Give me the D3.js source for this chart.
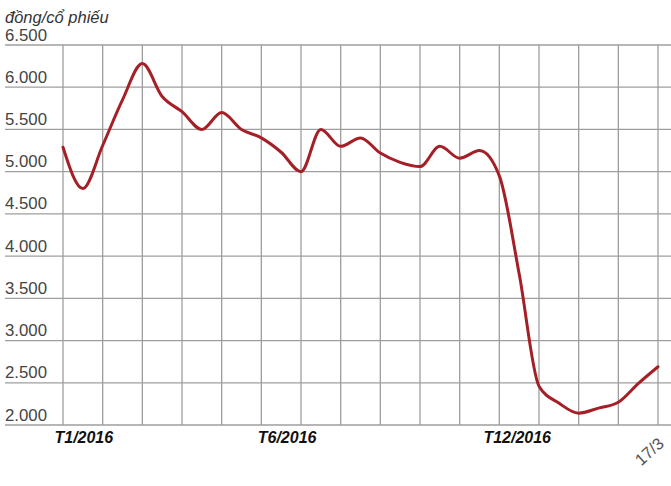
<!DOCTYPE html>
<html>
<head>
<meta charset="utf-8">
<script src="https://cdn.jsdelivr.net/npm/d3@7"></script>
<style>
  html, body { margin: 0; padding: 0; background: #fff; }
  svg { display: block; }
</style>
</head>
<body>
<div id="chart"></div>
<script>
// Half-month sampled share price (đồng/cổ phiếu), Jan 2016 → 17/3/2017
const prices = [5290, 4800, 5310, 5850, 6280, 5890, 5710, 5500, 5700, 5500,
                5400, 5230, 5000, 5500, 5300, 5400, 5220, 5110, 5060, 5300,
                5160, 5250, 4950, 3790, 2460, 2260, 2140, 2200, 2270, 2490, 2690];
const yTicks = [2000, 2500, 3000, 3500, 4000, 4500, 5000, 5500, 6000, 6500];
const monthLines = [0, 2, 4, 6, 8, 10, 12, 14, 16, 18, 20, 22, 24, 26, 28, 30];
const xLabels = ["T1/2016", "T6/2016", "T12/2016"];
const xLabelAt = [1.05, 11.3, 22.9];
const endLabel = "17/3";
const unitLabel = "đồng/cổ phiếu";

const W = 671, H = 486;
const svg = d3.select("#chart").append("svg").attr("width", W).attr("height", H);

const x = d3.scaleLinear().domain([0, prices.length - 1]).range([63, 658]);
const y = d3.scaleLinear().domain([2000, 6500]).range([425, 45]);

const loc = d3.formatLocale({decimal: ",", thousands: ".", grouping: [3], currency: ["", ""]});
const fmt = loc.format(",d");

const grid = svg.append("g");
grid.selectAll("line.h").data(yTicks).join("line")
  .attr("x1", 5).attr("x2", W)
  .attr("y1", d => y(d)).attr("y2", d => y(d))
  .attr("stroke", "#9e9e9e").attr("stroke-width", 1.3);
grid.selectAll("line.v").data(monthLines).join("line")
  .attr("x1", d => x(d)).attr("x2", d => x(d))
  .attr("y1", y(6500)).attr("y2", y(2000))
  .attr("stroke", "#9e9e9e").attr("stroke-width", 1.3);

svg.append("g").selectAll("text").data(yTicks).join("text")
  .attr("x", 5).attr("y", d => y(d) - 4.5)
  .attr("font-family", "Liberation Sans, Arial, sans-serif")
  .attr("font-size", 16.8).attr("fill", "#444")
  .text(d => fmt(d));

svg.append("text").attr("x", 5).attr("y", 23)
  .attr("font-family", "Liberation Sans, Arial, sans-serif")
  .attr("font-size", 16.5).attr("font-style", "italic").attr("fill", "#333")
  .text(unitLabel);

svg.append("g").selectAll("text").data(xLabels).join("text")
  .attr("x", (d, i) => x(xLabelAt[i])).attr("y", 443)
  .attr("text-anchor", "middle")
  .attr("font-family", "Liberation Sans, Arial, sans-serif")
  .attr("font-size", 16).attr("font-weight", "bold").attr("font-style", "italic")
  .attr("fill", "#111")
  .text(d => d);

svg.append("text")
  .attr("transform", `translate(${x(prices.length - 1) + 7},${445}) rotate(-42)`)
  .attr("text-anchor", "end")
  .attr("font-family", "Liberation Sans, Arial, sans-serif")
  .attr("font-size", 16.5).attr("fill", "#555")
  .text(endLabel);

const line = d3.line().x((d, i) => x(i)).y(d => y(d)).curve(d3.curveMonotoneX);
svg.append("path").datum(prices)
  .attr("d", line)
  .attr("fill", "none").attr("stroke", "#a51f27").attr("stroke-width", 3)
  .attr("stroke-linejoin", "round").attr("stroke-linecap", "round");
</script>
</body>
</html>
